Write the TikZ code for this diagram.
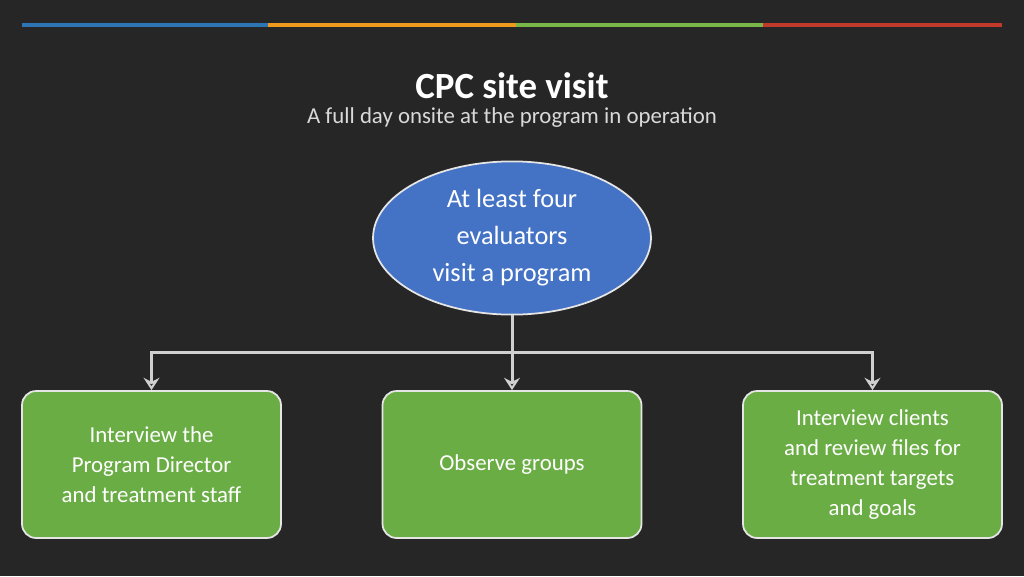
\documentclass[tikz,border=0pt]{standalone}
\usepackage{fontspec}
\setmainfont{Carlito}
\usetikzlibrary{positioning,arrows.meta,shapes.geometric}
\definecolor{bgdark}{HTML}{262626}
\definecolor{ovalblue}{HTML}{4472C4}
\definecolor{boxgreen}{HTML}{6AAD45}
\definecolor{linkgray}{HTML}{D0D0D0}
\definecolor{barblue}{HTML}{2E75B6}
\definecolor{barorange}{HTML}{ED9A1F}
\definecolor{bargreen}{HTML}{7AB648}
\definecolor{barred}{HTML}{C0392B}
\tikzset{
  taskbox/.style={draw=white!90!black, line width=1pt, fill=boxgreen, rounded corners=8pt,
    minimum width=5.18cm, minimum height=2.94cm, align=center, text=white,
    font=\fontsize{13}{17}\selectfont},
  link/.style={linkgray, line width=1.7pt},
}
\begin{document}
\begin{tikzpicture}[x=0.02cm,y=-0.02cm]
		%%background
		\fill[bgdark] (0,0) rectangle (1024,576);
		\useasboundingbox (0,0) rectangle (1024,576);
		\fill[barblue] (22,23) rectangle (268,27);
		\fill[barorange] (268,23) rectangle (516,27);
		\fill[bargreen] (516,23) rectangle (763,27);
		\fill[barred] (763,23) rectangle (1002,27);
		%%nodes
		\node[text=white, font=\bfseries\fontsize{21}{24}\selectfont] (title) at (512,86) {CPC site visit};
		\node[text=white!85!black, font=\fontsize{13}{16}\selectfont] (sub) at (512,118) {A full day onsite at the program in operation};
		\node[draw=white!90!black, line width=1pt, fill=ovalblue, ellipse, minimum width=5.56cm, minimum height=3.04cm,
		  text=white, align=center, font=\fontsize{15}{21}\selectfont] (visit) at (512,238) {At least four\\evaluators\\visit a program};
		\node[taskbox] (staff) at (151.5,464.5) {Interview the\\Program Director\\and treatment staff};
		\node[taskbox] (groups) at (512,464.5) {Observe groups};
		\node[taskbox] (files) at (872.5,464.5) {Interview clients\\and review files for\\treatment targets\\and goals};
		\coordinate (split) at (512,352);
		\draw[link] (visit.south) -- (split);
		\draw[link, -{Stealth[length=7pt,width=9pt,open]}] (split) -| (staff.north);
		\draw[link, -{Stealth[length=7pt,width=9pt,open]}] (split) -- (groups.north);
		\draw[link, -{Stealth[length=7pt,width=9pt,open]}] (split) -| (files.north);
\end{tikzpicture}
\end{document}
